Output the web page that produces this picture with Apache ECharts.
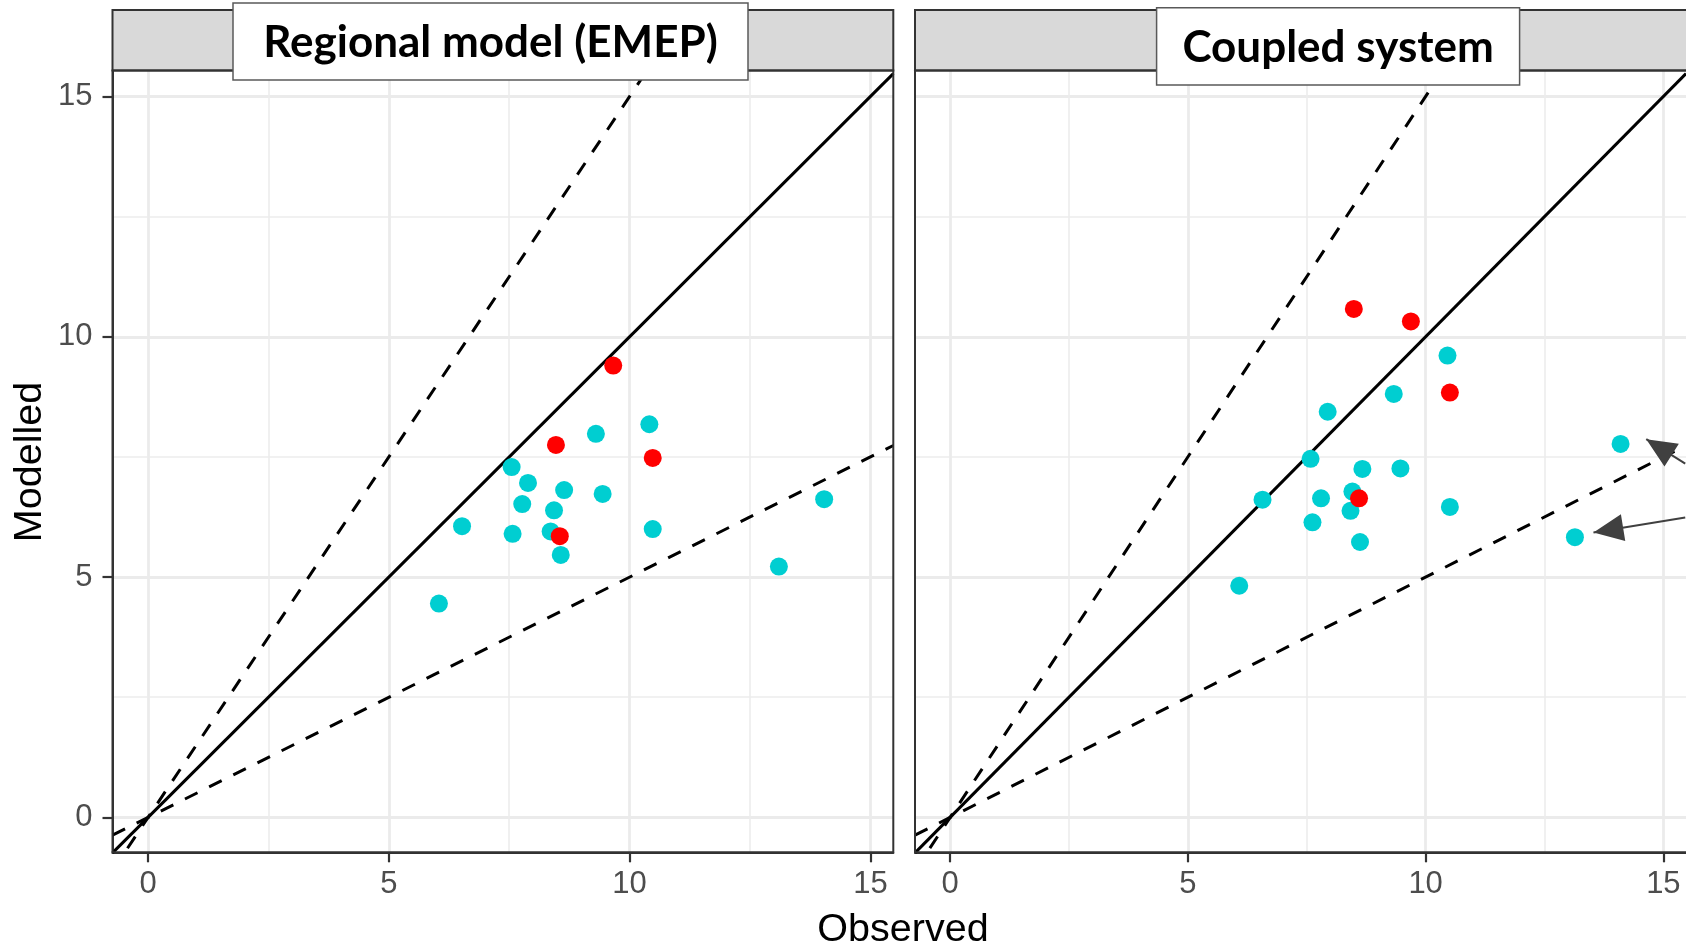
<!DOCTYPE html>
<html><head><meta charset="utf-8">
<script src="https://cdn.jsdelivr.net/npm/echarts@6/dist/echarts.min.js"></script>
<style>html,body{margin:0;padding:0;background:#fff;overflow:hidden}#c{width:1686px;height:945px}</style>
</head><body><div id="c"></div>
<script>
// ---- data ----
const panelTitles = ['Regional model (EMEP)', 'Coupled system'];
const xAxisTitle = 'Observed';
const yAxisTitle = 'Modelled';
const tickValues = [0, 5, 10, 15];
const refSlopes = [1, 1.5, 0.5];          // 1:1 line and factor lines
const refStyles = ['solid', 'dashed', 'dashed'];
const axisLimitsX = [-0.739, 15.476];
const axisLimitsY = [-0.726, 15.54];

// Regional model (EMEP) [observed, modelled]
const emepCyan = [[10.41,8.18],[9.30,7.98],[7.55,7.29],[7.89,6.96],[8.64,6.81],[9.44,6.73],[7.77,6.52],[8.43,6.39],[6.52,6.06],[7.57,5.90],[8.36,5.95],[10.48,6.00],[8.57,5.46],[14.04,6.62],[13.10,5.22],[6.04,4.45]];
const emepRed = [[9.66,9.40],[8.47,7.75],[10.48,7.48],[8.55,5.85]];
// Coupled system
const coupledCyan = [[10.46,9.61],[9.33,8.81],[7.94,8.44],[7.58,7.46],[8.67,7.25],[9.47,7.26],[14.10,7.77],[6.57,6.61],[7.80,6.64],[8.46,6.78],[8.42,6.38],[10.51,6.46],[7.62,6.14],[8.62,5.73],[13.14,5.83],[6.08,4.82]];
const coupledRed = [[8.49,10.58],[9.69,10.32],[10.51,8.84],[8.60,6.64]];
// annotation arrows in the coupled panel: [from, to]
const arrowsCoupled = [[[15.46,7.36],[14.64,7.87]], [[15.46,6.24],[13.53,5.93]]];

// ---- layout ----
const panels = [
  {left:112.5, top:70.5, width:780.8, height:781.8},
  {left:915, top:70.5, width:780.8, height:781.8}
];
const stripTop = 10;
const titleBoxes = [
  {x:233, y:3, w:515, h:77},
  {x:1156.6, y:7.8, w:363, h:77.2}
];
const CYAN = '#00CED1', RED = '#FF0000';
// triangle with its apex at the centre of the symbol box (tiny invisible sliver extends the box)
const arrowPath = 'path://M0,0L10,28L-10,28ZM0,-28L0.01,-27.99L-0.01,-27.99Z';

const chart = echarts.init(document.getElementById('c'));

function makeAxis(kind, idx) {
  const lim = kind === 'x' ? axisLimitsX : axisLimitsY;
  const showLabels = kind === 'x' || idx === 0;
  return {
    type:'value', gridIndex: idx, min: lim[0], max: lim[1],
    minInterval:5, maxInterval:5, splitNumber:3,
    axisLine:{show:true, onZero:false, lineStyle:{color:'#333333', width:2}},
    axisTick:{show: showLabels, length:10, customValues: tickValues,
      lineStyle:{color:'#333333', width:2.2}},
    axisLabel:{show: showLabels, customValues: tickValues, margin: kind === 'x' ? 17 : 20,
      color:'#4D4D4D', fontSize:31, fontFamily:'Liberation Sans, Arial, sans-serif'},
    splitLine:{show:true, lineStyle:{color:'#EBEBEB', width:2.8}},
    minorTick:{show:false, splitNumber:2},
    minorSplitLine:{show:true, lineStyle:{color:'#EDEDED', width:1.6}}
  };
}

const series = [];
const panelData = [[emepCyan, emepRed], [coupledCyan, coupledRed]];
panelData.forEach((pd, i) => {
  refSlopes.forEach((s, k) => {
    series.push({
      type:'line', xAxisIndex:i, yAxisIndex:i, clip:true, symbol:'none', silent:true, z:2,
      data:[[axisLimitsX[0], s*axisLimitsX[0]], [axisLimitsX[1], s*axisLimitsX[1]]],
      lineStyle:{color:'#000', width:3, type: refStyles[k] === 'dashed' ? [14,13] : 'solid'}
    });
  });
  const cy = {
    type:'scatter', xAxisIndex:i, yAxisIndex:i, data: pd[0], symbolSize:18, z:3,
    itemStyle:{color:CYAN, opacity:1}
  };
  if (i === 1) {
    cy.markLine = {
      silent:true, animation:false, symbol:['none', arrowPath], symbolSize:[27,60],
      label:{show:false},
      lineStyle:{color:'#404040', width:2, type:'solid'},
      data: arrowsCoupled.map(a => [{coord:a[0]}, {coord:a[1]}])
    };
  }
  series.push(cy);
  series.push({
    type:'scatter', xAxisIndex:i, yAxisIndex:i, data: pd[1], symbolSize:18, z:4,
    itemStyle:{color:RED, opacity:1}
  });
});

const graphics = [];
panels.forEach((p, i) => {
  graphics.push({type:'rect', z:100, silent:true,
    shape:{x:p.left, y:stripTop, width:p.width, height:p.top - stripTop},
    style:{fill:'#D9D9D9', stroke:'#333333', lineWidth:2}});
  graphics.push({type:'rect', z:100, silent:true,
    shape:{x:p.left, y:p.top, width:p.width, height:p.height},
    style:{fill:null, stroke:'#333333', lineWidth:2}});
  const b = titleBoxes[i];
  graphics.push({type:'rect', z:110, silent:true,
    shape:{x:b.x, y:b.y, width:b.w, height:b.h},
    style:{fill:'#FFFFFF', stroke:'#595959', lineWidth:1.5}});
  graphics.push({type:'text', z:111, silent:true, x:b.x + b.w/2, y:b.y + b.h/2 + 1,
    style:{text: panelTitles[i], font:'bold 44px Lato, "Open Sans", sans-serif', fill:'#000',
      textAlign:'center', textVerticalAlign:'middle', align:'center', verticalAlign:'middle'}});
});
graphics.push({type:'text', z:111, silent:true, x:903, y:930,
  style:{text:xAxisTitle, font:'39.5px "Liberation Sans", Arial, sans-serif', fill:'#000',
    textAlign:'center', textVerticalAlign:'middle', align:'center', verticalAlign:'middle'}});
graphics.push({type:'text', z:111, silent:true, x:30, y:462, rotation:Math.PI/2,
  style:{text:yAxisTitle, font:'39.5px "Liberation Sans", Arial, sans-serif', fill:'#000',
    textAlign:'center', textVerticalAlign:'middle', align:'center', verticalAlign:'middle'}});

chart.setOption({
  animation:false,
  backgroundColor:'#FFFFFF',
  grid: panels.map(p => ({left:p.left, top:p.top, width:p.width, height:p.height})),
  xAxis:[makeAxis('x',0), makeAxis('x',1)],
  yAxis:[makeAxis('y',0), makeAxis('y',1)],
  series: series,
  graphic:{elements: graphics}
});
</script></body></html>
